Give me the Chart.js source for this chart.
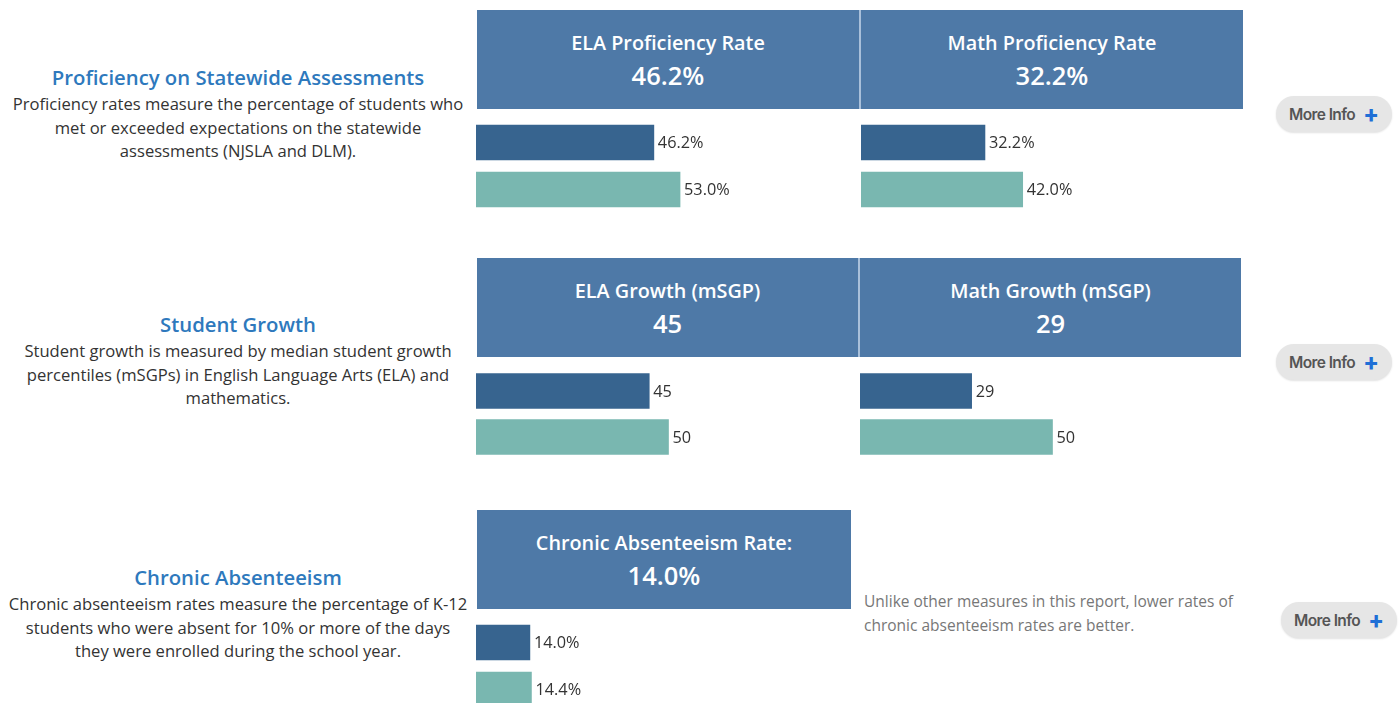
<!DOCTYPE html>
<html>
<head>
<meta charset="utf-8">
<script src="https://cdn.jsdelivr.net/npm/chart.js@4/dist/chart.umd.min.js"></script>
<style>
  html, body { margin: 0; padding: 0; background: #fff; }
  body { width: 1399px; height: 703px; position: relative; overflow: hidden; font-family: "Open Sans", "Noto Sans", sans-serif; }
  .abs { position: absolute; }
  .section { left: 0; width: 476px; text-align: center; color: #333; font-size: 16.6px; line-height: 23.5px; }
  .section h2 { margin: 0 0 2px 0; font-size: 20.3px; font-weight: 600; color: #2e79bd; line-height: 26px; }
  .hdr { background: #4e79a7; color: #fff; text-align: center; height: 99px; display: flex; flex-direction: column; justify-content: center; }
  .hdr .t { font-size: 19.8px; font-weight: 600; line-height: 30px; }
  .hdr .v { font-size: 25.5px; font-weight: 600; line-height: 34px; }
  .sep { width: 2px; background: #a9c0da; }
  .btn { background: #e6e6e6; border-radius: 19px; height: 36px; width: 116px; box-shadow: 0 1px 2px rgba(0,0,0,0.12);
         font-family: "Inter", "Roboto", sans-serif; font-weight: 600; font-size: 15.5px; color: #555; letter-spacing: -0.6px;
         display: flex; align-items: center; justify-content: center; }
  .btn b { color: #1f6fd6; font-size: 23px; font-weight: 800; margin-left: 8px; letter-spacing: 0; }
  .note { color: #777; font-size: 15.5px; line-height: 23.5px; }
  canvas { position: absolute; }
</style>
</head>
<body>

<div class="abs section" style="top:64px;">
  <h2>Proficiency on Statewide Assessments</h2>
  Proficiency rates measure the percentage of students who<br>met or exceeded expectations on the statewide<br>assessments (NJSLA and DLM).
</div>
<div class="abs section" style="top:311px;">
  <h2>Student Growth</h2>
  Student growth is measured by median student growth<br>percentiles (mSGPs) in English Language Arts (ELA) and<br>mathematics.
</div>
<div class="abs section" style="top:564px;">
  <h2>Chronic Absenteeism</h2>
  Chronic absenteeism rates measure the percentage of K-12<br>students who were absent for 10% or more of the days<br>they were enrolled during the school year.
</div>

<div id="headers"></div>

<div class="abs sep" style="left:859px; top:10px; height:99px;"></div>
<div class="abs sep" style="left:858px; top:258px; height:99px;"></div>

<div class="abs note" style="left:864px; top:590px;">Unlike other measures in this report, lower rates of<br>chronic absenteeism rates are better.</div>

<div class="abs btn" style="left:1276px; top:96px;">More Info <b>+</b></div>
<div class="abs btn" style="left:1276px; top:344px;">More Info <b>+</b></div>
<div class="abs btn" style="left:1281px; top:602px;">More Info <b>+</b></div>

<canvas id="c0"></canvas>
<canvas id="c1"></canvas>
<canvas id="c2"></canvas>
<canvas id="c3"></canvas>
<canvas id="c4"></canvas>

<script>
// measures shown in the header boxes and bar pairs
const measureNames = ['ELA Proficiency Rate', 'Math Proficiency Rate', 'ELA Growth (mSGP)', 'Math Growth (mSGP)', 'Chronic Absenteeism Rate:'];
const isPercent = [true, true, false, false, true];
const groups = ['School', 'State'];
const schoolValues = [46.2, 32.2, 45, 29, 14.0];
const stateValues = [53.0, 42.0, 50, 50, 14.4];

// layout of each panel (header box + bar canvas)
const panels = [
  { x: 477, w: 382, hy: 10, cx: 476, cy: 119, ch: 94 },
  { x: 861, w: 382, hy: 10, cx: 861, cy: 119, ch: 94 },
  { x: 477, w: 381, hy: 258, cx: 476, cy: 368, ch: 92 },
  { x: 860, w: 381, hy: 258, cx: 860, cy: 368, ch: 92 },
  { x: 477, w: 374, hy: 510, cx: 476, cy: 619, ch: 94 }
];

const fmt = (v, pct) => pct ? v.toFixed(1) + '%' : String(v);

const headers = document.getElementById('headers');
measureNames.forEach((name, i) => {
  const p = panels[i];
  const d = document.createElement('div');
  d.className = 'abs hdr';
  d.style.left = p.x + 'px';
  d.style.top = p.hy + 'px';
  d.style.width = p.w + 'px';
  d.innerHTML = '<div class="t">' + name + '</div><div class="v">' + fmt(schoolValues[i], isPercent[i]) + '</div>';
  headers.appendChild(d);
});

// value labels at the end of each bar
const endLabels = {
  id: 'endLabels',
  afterDatasetsDraw(chart) {
    const ctx = chart.ctx;
    const pct = chart.options.plugins.endLabels.pct;
    ctx.save();
    ctx.font = '16.3px "Open Sans", "Noto Sans", sans-serif';
    ctx.fillStyle = '#333';
    ctx.textBaseline = 'middle';
    chart.getDatasetMeta(0).data.forEach((bar, j) => {
      const v = chart.data.datasets[0].data[j];
      ctx.fillText(fmt(v, pct), bar.x + 4, bar.y + 1);
    });
    ctx.restore();
  }
};

measureNames.forEach((name, i) => {
  const p = panels[i];
  const canvas = document.getElementById('c' + i);
  canvas.width = 385;
  canvas.height = p.ch;
  canvas.style.left = p.cx + 'px';
  canvas.style.top = p.cy + 'px';

  new Chart(canvas, {
    type: 'bar',
    data: {
      labels: groups,
      datasets: [{
        data: [schoolValues[i], stateValues[i]],
        backgroundColor: ['#37648f', '#79b7b0'],
        barThickness: 35,
        borderWidth: 0
      }]
    },
    options: {
      indexAxis: 'y',
      responsive: false,
      animation: false,
      layout: { padding: 0 },
      events: [],
      plugins: {
        legend: { display: false },
        tooltip: { enabled: false },
        endLabels: { pct: isPercent[i] }
      },
      scales: {
        x: { display: false, min: 0, max: 100 },
        y: { display: false }
      }
    },
    plugins: [endLabels]
  });
});
</script>
</body>
</html>
